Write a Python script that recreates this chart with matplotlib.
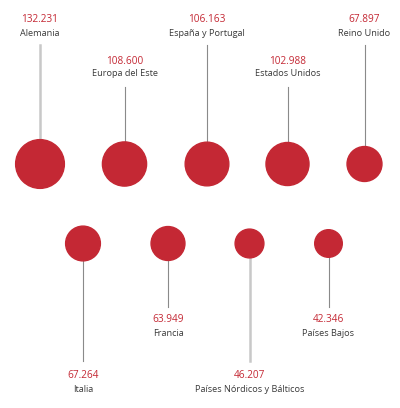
import matplotlib
matplotlib.use('Agg')
import matplotlib.pyplot as plt
import numpy as np

# datos (miles)
top_names = ['Alemania', 'Europa del Este', 'España y Portugal', 'Estados Unidos', 'Reino Unido']
top_values = [132.231, 108.600, 106.163, 102.988, 67.897]
bottom_names = ['Italia', 'Francia', 'Países Nórdicos y Bálticos', 'Países Bajos']
bottom_values = [67.264, 63.949, 46.207, 42.346]

RED = '#c42834'
LABEL = '#3a3a3a'
plt.rcParams['font.family'] = ['Open Sans', 'DejaVu Sans']

fig = plt.figure(figsize=(4, 4.08), dpi=100)
ax = fig.add_axes([0, 0, 1, 1])
ax.set_xlim(0, 400)
ax.set_ylim(408, 0)
ax.axis('off')

k = 2.12  # radio px por sqrt(miles)


def fmt(v):
    return f'{v:.3f}'


def draw_row(names, values, xs, cy, up, thick_idx):
    for i, (n, v, x) in enumerate(zip(names, values, xs)):
        r = k * np.sqrt(v)
        if up:
            vy, ly, end = (19, 33, 45) if i % 2 == 0 else (61, 74, 87)
        else:
            vy, ly, end = (376, 390, 361) if i % 2 == 0 else (320, 334, 307)
        if i in thick_idx:
            ax.plot([x, x], [end, cy], color='#c8c8c8', lw=1.8, zorder=1)
        else:
            ax.plot([x, x], [end, cy], color='#8a8a8a', lw=0.8, zorder=1)
        ax.add_patch(plt.Circle((x, cy), r, color=RED, zorder=2))
        ax.text(x, vy, fmt(v), color=RED, fontsize=7.2, ha='center', va='center')
        ax.text(x, ly, n, color=LABEL, fontsize=6.6, ha='center', va='center')


draw_row(top_names, top_values, [40, 124.5, 207, 287.5, 364.5], 164, True, [0])
draw_row(bottom_names, bottom_values, [83, 168, 249.5, 328.5], 243.5, False, [2])

fig.savefig('out.png', dpi=100)
